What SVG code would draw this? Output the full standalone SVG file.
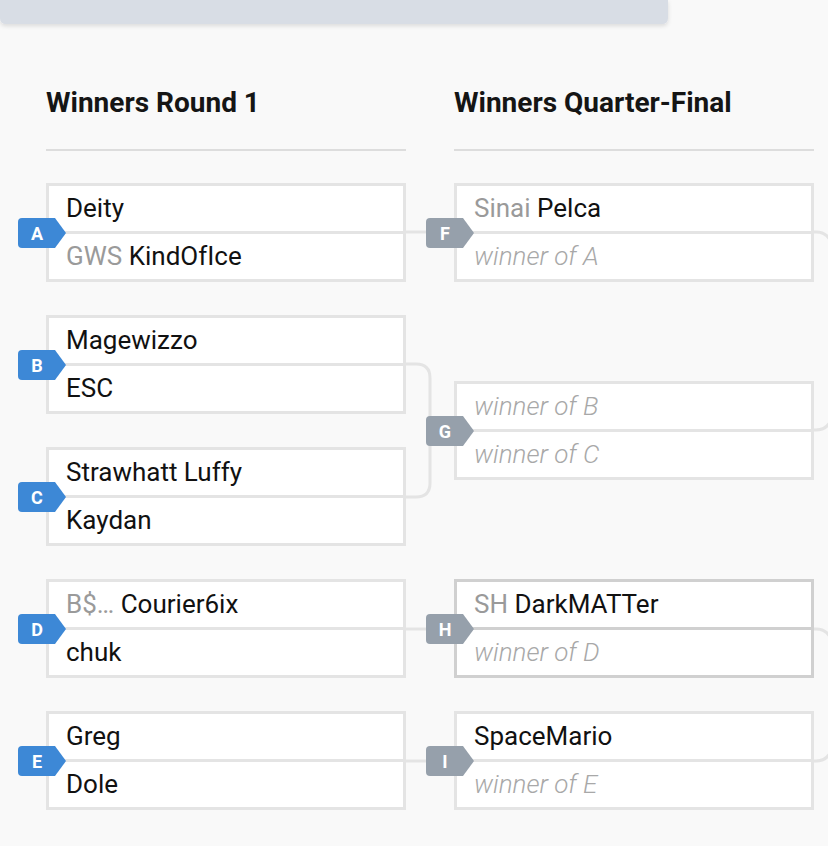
<svg xmlns="http://www.w3.org/2000/svg" width="828" height="846" viewBox="0 0 828 846">
<defs>
<style>
.bg{fill:#f9f9f9}
.box{fill:#fff;stroke:#e4e4e4;stroke-width:3}
.boxd{fill:#fff;stroke:#d0d0d0;stroke-width:3}
.div{stroke:#e4e4e4;stroke-width:3}
.divd{stroke:#d0d0d0;stroke-width:3}
.conn{fill:none;stroke:#e4e4e4;stroke-width:3}
.t{font-family:Roboto,"Liberation Sans",sans-serif;font-size:26px;fill:#111}
.pre{fill:#9a9a9a}
.w{font-family:Roboto,"Liberation Sans",sans-serif;font-size:26px;font-style:italic;fill:#a8a8a8;font-weight:300}
.h{font-family:Roboto,"Liberation Sans",sans-serif;font-size:28px;font-weight:bold;fill:#151515}
.bl{fill:#3d88d6}
.bg2{fill:#96a0ab}
.bt{font-family:Roboto,"Liberation Sans",sans-serif;font-size:18px;font-weight:bold;fill:#fff;text-anchor:middle}
</style>
<filter id="sh" x="-5%" y="-50%" width="110%" height="250%">
<feDropShadow dx="0" dy="2" stdDeviation="2" flood-color="#000" flood-opacity="0.12"/>
</filter>
<path id="badge" d="M4 0 H37 L48 15 L37 30 H4 Q0 30 0 26 V4 Q0 0 4 0 Z"/>
</defs>
<rect class="bg" x="0" y="0" width="828" height="846"/>
<path d="M0 0 H668 V18 Q668 24 662 24 H6 Q0 24 0 18 Z" fill="#d8dde5" filter="url(#sh)"/>

<text class="h" x="46" y="112">Winners Round 1</text>
<text class="h" x="454" y="112">Winners Quarter-Final</text>
<line x1="46" y1="150" x2="406" y2="150" stroke="#dddddd" stroke-width="2"/>
<line x1="454" y1="150" x2="814" y2="150" stroke="#dddddd" stroke-width="2"/>

<g id="connectors">
<line class="conn" x1="404" y1="232" x2="430" y2="232"/>
<path class="conn" d="M404 364 H416 Q430 364 430 378 V483 Q430 497 416 497 H404"/>
<line class="conn" x1="404" y1="629" x2="430" y2="629"/>
<line class="conn" x1="404" y1="761" x2="430" y2="761"/>
<path class="conn" d="M812 232 H816 Q830 232 834 250"/>
<path class="conn" d="M812 430 H816 Q830 430 834 412"/>
<path class="conn" d="M812 629 H816 Q830 629 834 647"/>
<path class="conn" d="M812 761 H816 Q830 761 834 743"/>
</g>

<g id="match-A">
<rect class="box" x="47.5" y="184.5" width="357" height="96"/>
<line class="div" x1="47.5" y1="232.5" x2="404.5" y2="232.5"/>
<text class="t" x="66" y="217">Deity</text>
<text class="t" x="66" y="265"><tspan class="pre">GWS</tspan> KindOfIce</text>
<use href="#badge" class="bl" x="18" y="218"/>
<text class="bt" x="37" y="239.5">A</text>
</g>

<g id="match-B">
<rect class="box" x="47.5" y="316.5" width="357" height="96"/>
<line class="div" x1="47.5" y1="364.5" x2="404.5" y2="364.5"/>
<text class="t" x="66" y="349">Magewizzo</text>
<text class="t" x="66" y="397">ESC</text>
<use href="#badge" class="bl" x="18" y="350"/>
<text class="bt" x="37" y="371.5">B</text>
</g>

<g id="match-C">
<rect class="box" x="47.5" y="448.5" width="357" height="96"/>
<line class="div" x1="47.5" y1="496.5" x2="404.5" y2="496.5"/>
<text class="t" x="66" y="481">Strawhatt Luffy</text>
<text class="t" x="66" y="529">Kaydan</text>
<use href="#badge" class="bl" x="18" y="482"/>
<text class="bt" x="37" y="503.5">C</text>
</g>

<g id="match-D">
<rect class="box" x="47.5" y="580.5" width="357" height="96"/>
<line class="div" x1="47.5" y1="628.5" x2="404.5" y2="628.5"/>
<text class="t" x="66" y="613"><tspan class="pre">B$…</tspan> Courier6ix</text>
<text class="t" x="66" y="661">chuk</text>
<use href="#badge" class="bl" x="18" y="614"/>
<text class="bt" x="37" y="635.5">D</text>
</g>

<g id="match-E">
<rect class="box" x="47.5" y="712.5" width="357" height="96"/>
<line class="div" x1="47.5" y1="760.5" x2="404.5" y2="760.5"/>
<text class="t" x="66" y="745">Greg</text>
<text class="t" x="66" y="793">Dole</text>
<use href="#badge" class="bl" x="18" y="746"/>
<text class="bt" x="37" y="767.5">E</text>
</g>

<g id="match-F">
<rect class="box" x="455.5" y="184.5" width="357" height="96"/>
<line class="div" x1="455.5" y1="232.5" x2="812.5" y2="232.5"/>
<text class="t" x="474" y="217"><tspan class="pre">Sinai</tspan> Pelca</text>
<text class="w" x="474" y="265">winner of A</text>
<use href="#badge" class="bg2" x="426" y="218"/>
<text class="bt" x="445" y="239.5">F</text>
</g>

<g id="match-G">
<rect class="box" x="455.5" y="382.5" width="357" height="96"/>
<line class="div" x1="455.5" y1="430.5" x2="812.5" y2="430.5"/>
<text class="w" x="474" y="415">winner of B</text>
<text class="w" x="474" y="463">winner of C</text>
<use href="#badge" class="bg2" x="426" y="416"/>
<text class="bt" x="445" y="437.5">G</text>
</g>

<g id="match-H">
<rect class="boxd" x="455.5" y="580.5" width="357" height="96"/>
<line class="divd" x1="455.5" y1="628.5" x2="812.5" y2="628.5"/>
<text class="t" x="474" y="613"><tspan class="pre">SH</tspan> DarkMATTer</text>
<text class="w" x="474" y="661">winner of D</text>
<use href="#badge" class="bg2" x="426" y="614"/>
<text class="bt" x="445" y="635.5">H</text>
</g>

<g id="match-I">
<rect class="box" x="455.5" y="712.5" width="357" height="96"/>
<line class="div" x1="455.5" y1="760.5" x2="812.5" y2="760.5"/>
<text class="t" x="474" y="745">SpaceMario</text>
<text class="w" x="474" y="793">winner of E</text>
<use href="#badge" class="bg2" x="426" y="746"/>
<text class="bt" x="445" y="767.5">I</text>
</g>
</svg>
